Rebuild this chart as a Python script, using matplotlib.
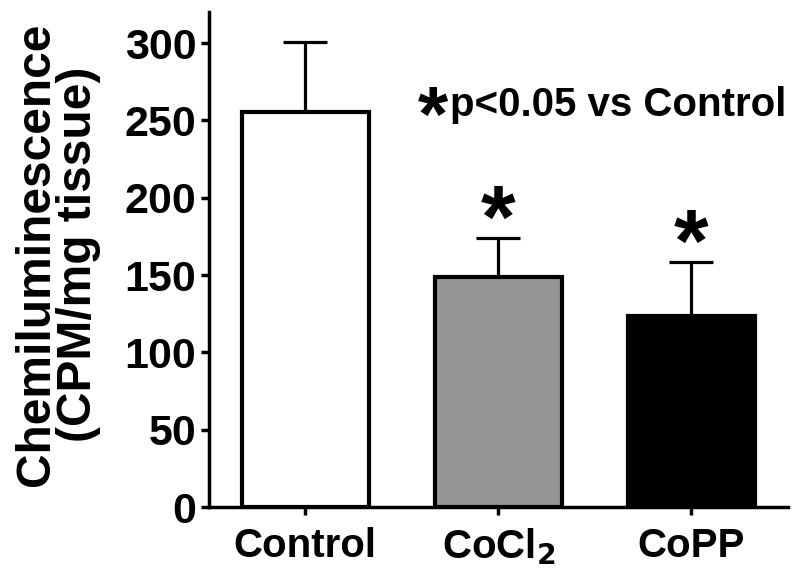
import numpy as np
import matplotlib.pyplot as plt

plt.rcParams['font.family'] = ['Liberation Sans', 'DejaVu Sans']
plt.rcParams['font.weight'] = 'bold'

groups = ['Control', 'CoCl$_\\mathbf{2}$', 'CoPP']
means = [255.5, 149, 123.5]
sem = [45, 25, 35]
colors = ['white', '#969696', 'black']
signif = [False, True, True]

fig = plt.figure(figsize=(8, 5.75), dpi=100)
ax = fig.add_axes([0.261, 0.118, 0.724, 0.861])

x = np.arange(len(groups))
ax.bar(x, means, width=0.66, color=colors, edgecolor='black', linewidth=3, zorder=2)
ax.errorbar(x, means, yerr=[np.zeros(3), sem], fmt='none', ecolor='black',
            elinewidth=2.3, capsize=16, capthick=2.3, zorder=1)

# significance stars above the error bars
for i in range(len(groups)):
    if signif[i]:
        ax.text(x[i], means[i] + sem[i] - 6, '*', ha='center', va='baseline',
                fontsize=64, fontweight='bold')

ax.text(0.66, 237, '*', ha='center', va='baseline', fontsize=56, fontweight='bold')
ax.text(0.75, 253, 'p<0.05 vs Control', ha='left', va='baseline', fontsize=29, fontweight='bold')

ax.set_xlim(-0.5, 2.5)
ax.set_ylim(0, 320)
ax.set_yticks(np.arange(0, 301, 50))
ax.set_xticks(x)
ax.set_xticklabels(groups)
ax.set_ylabel('Chemiluminescence\n(CPM/mg tissue)', fontsize=34.5, fontweight='bold',
              linespacing=0.93)
ax.yaxis.set_label_coords(-0.186, 0.51)

ax.spines['top'].set_visible(False)
ax.spines['right'].set_visible(False)
ax.spines['left'].set_linewidth(2.5)
ax.spines['bottom'].set_linewidth(2.5)
ax.tick_params(axis='both', width=2.5, length=6)
ax.tick_params(axis='y', labelsize=31, pad=3)
ax.tick_params(axis='x', labelsize=29, pad=8)
for lab in ax.get_xticklabels() + ax.get_yticklabels():
    lab.set_fontweight('bold')

fig.savefig('out.png', dpi=100)
